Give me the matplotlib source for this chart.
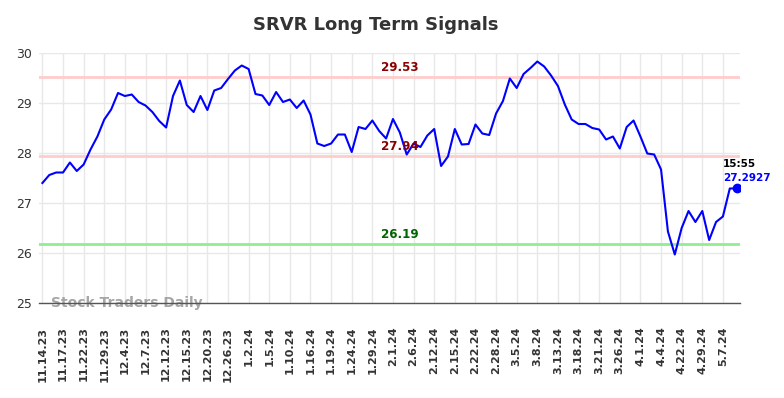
import matplotlib
matplotlib.use("Agg")
import matplotlib.pyplot as plt

title = "SRVR Long Term Signals"
tick_labels = ["11.14.23", "11.17.23", "11.22.23", "11.29.23", "12.4.23", "12.7.23",
               "12.12.23", "12.15.23", "12.20.23", "12.26.23", "1.2.24", "1.5.24",
               "1.10.24", "1.16.24", "1.19.24", "1.24.24", "1.29.24", "2.1.24",
               "2.6.24", "2.12.24", "2.15.24", "2.22.24", "2.28.24", "3.5.24",
               "3.8.24", "3.13.24", "3.18.24", "3.21.24", "3.26.24", "4.1.24",
               "4.4.24", "4.22.24", "4.29.24", "5.7.24"]
tick_step = 3
prices = [27.40, 27.56, 27.61, 27.61, 27.81, 27.64, 27.77, 28.07, 28.33, 28.67,
          28.87, 29.20, 29.14, 29.17, 29.02, 28.95, 28.82, 28.64, 28.51, 29.14,
          29.45, 28.96, 28.82, 29.14, 28.86, 29.25, 29.30, 29.48, 29.65, 29.75,
          29.68, 29.18, 29.15, 28.96, 29.22, 29.02, 29.07, 28.90, 29.05, 28.77,
          28.19, 28.14, 28.19, 28.37, 28.37, 28.02, 28.52, 28.48, 28.65, 28.44,
          28.29, 28.68, 28.41, 27.97, 28.19, 28.12, 28.35, 28.48, 27.74, 27.93,
          28.48, 28.17, 28.18, 28.57, 28.39, 28.36, 28.79, 29.04, 29.49, 29.30,
          29.58, 29.70, 29.83, 29.73, 29.55, 29.34, 28.97, 28.67, 28.58, 28.58,
          28.50, 28.47, 28.27, 28.33, 28.09, 28.52, 28.65, 28.33, 27.99, 27.97,
          27.67, 26.43, 25.97, 26.50, 26.84, 26.62, 26.84, 26.26, 26.62, 26.73,
          27.29, 27.2927]
upper_signal = 29.53
mid_signal = 27.94
lower_signal = 26.19
last_time = "15:55"
last_label = "27.2927"
watermark = "Stock Traders Daily"

fig = plt.figure(figsize=(7.84, 3.98), dpi=100)
ax = fig.add_axes([0.0497, 0.2387, 0.8943, 0.6281])

x = list(range(len(prices)))
ax.set_xlim(-0.5, len(prices) - 0.5)
ax.set_ylim(25, 30)

ax.axhline(upper_signal, color="#ffcccc", lw=2, zorder=2)
ax.axhline(mid_signal, color="#ffcccc", lw=2, zorder=2)
ax.axhline(lower_signal, color="#90ee90", lw=2, zorder=2)

ax.plot(x, prices, color="#0000ff", lw=1.5, zorder=4)
ax.plot([x[-1]], [prices[-1]], "o", color="#0000ff", ms=6, zorder=5)

label_x = 52
ax.annotate(f"{upper_signal:.2f}", (label_x, upper_signal), xytext=(0, 2),
            textcoords="offset points", ha="center", va="bottom",
            color="#8b0000", fontsize=8.6, fontweight="bold", zorder=6)
ax.annotate(f"{mid_signal:.2f}", (label_x, mid_signal), xytext=(0, 2),
            textcoords="offset points", ha="center", va="bottom",
            color="#8b0000", fontsize=8.6, fontweight="bold", zorder=6)
ax.annotate(f"{lower_signal:.2f}", (label_x, lower_signal), xytext=(0, 2),
            textcoords="offset points", ha="center", va="bottom",
            color="#006400", fontsize=8.6, fontweight="bold", zorder=6)

ax.annotate(last_time, (x[-1], prices[-1]), xytext=(-14, 24),
            textcoords="offset pixels", ha="left", va="center",
            color="black", fontsize=7.5, fontweight="bold", zorder=6)
ax.annotate(last_label, (x[-1], prices[-1]), xytext=(-14, 10),
            textcoords="offset pixels", ha="left", va="center",
            color="#0000ff", fontsize=7.5, fontweight="bold", zorder=6)

ax.text(0.017, 0.0, watermark, transform=ax.transAxes, ha="left", va="center",
        color="#a6a6a6", fontsize=10, fontweight="bold", zorder=3)

ax.set_xticks(x[::tick_step])
ax.set_xticklabels(tick_labels, rotation=90, fontsize=8, fontweight="bold",
                   color="#333333")
ax.set_yticks([25, 26, 27, 28, 29, 30])
ax.tick_params(axis="y", length=0, pad=5, labelsize=9, labelcolor="#333333")
ax.tick_params(axis="x", length=0, pad=17)

ax.grid(True, color="#e8e8e8", lw=1, zorder=0)
ax.set_axisbelow(True)
for s in ["top", "right", "left"]:
    ax.spines[s].set_visible(False)
ax.spines["bottom"].set_color("#555555")
ax.spines["bottom"].set_linewidth(1)
ax.spines["bottom"].set_zorder(4)

fig.text(0.479, 0.937, title, ha="center", va="center", fontsize=13,
         fontweight="bold", color="#333333")

fig.savefig("out.png", dpi=100)
